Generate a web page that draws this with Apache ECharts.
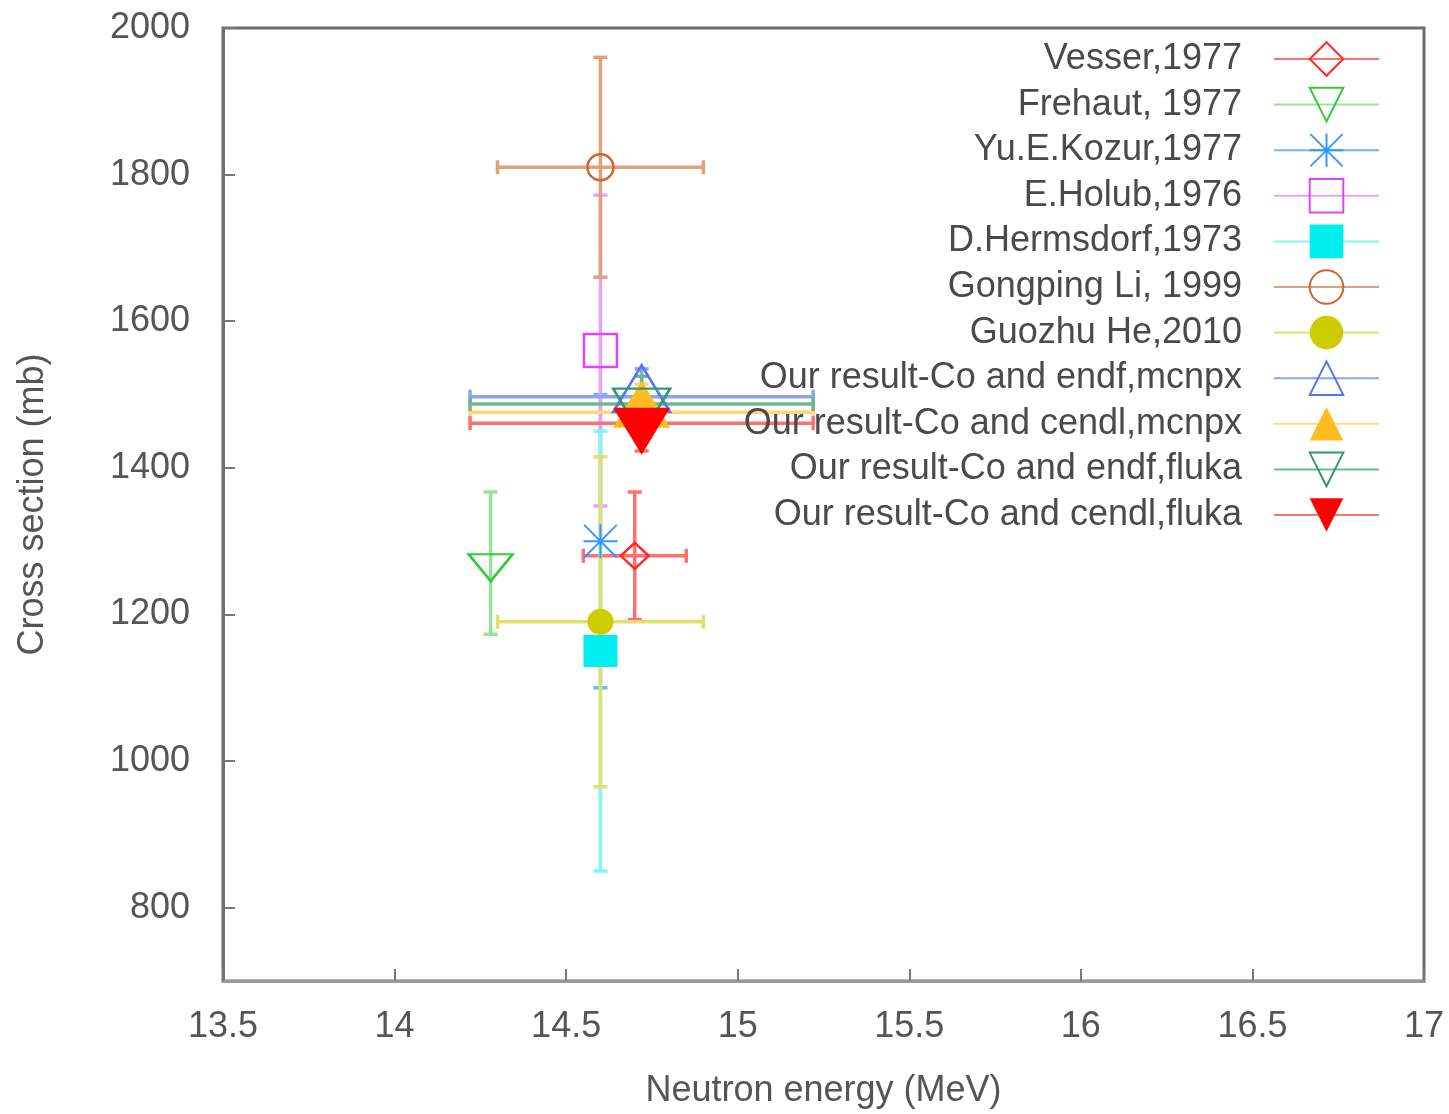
<!DOCTYPE html>
<html>
<head>
<meta charset="utf-8">
<script src="https://cdn.jsdelivr.net/npm/echarts@6/dist/echarts.min.js"></script>
<style>
html,body{margin:0;padding:0;background:#fff;}
#chart{width:1449px;height:1114px;}
</style>
</head>
<body>
<div id="chart"></div>
<script>
// ---- data ----
const seriesNames = [
  'Vesser,1977',
  'Frehaut, 1977',
  'Yu.E.Kozur,1977',
  'E.Holub,1976',
  'D.Hermsdorf,1973',
  'Gongping Li, 1999',
  'Guozhu He,2010',
  'Our result-Co and endf,mcnpx',
  'Our result-Co and cendl,mcnpx',
  'Our result-Co and endf,fluka',
  'Our result-Co and cendl,fluka'
];
const energyValues = [14.7, 14.28, 14.6, 14.6, 14.6, 14.6, 14.6, 14.72, 14.72, 14.72, 14.72];
const crossSections = [1280, 1270, 1300, 1560, 1150, 1810, 1190, 1497, 1476, 1487, 1461];
const energyErrors = [0.15, 0, 0, 0, 0, 0.3, 0.3, 0.5, 0.5, 0.5, 0.5];
const crossErrors = [87, 97, 200, 212, 300, 150, 225, 38, 38, 38, 38];
const xTickLabels = ['13.5', '14', '14.5', '15', '15.5', '16', '16.5', '17'];
const yTickValues = [800, 1000, 1200, 1400, 1600, 1800, 2000];
const yTickLabels = ['800', '1000', '1200', '1400', '1600', '1800', '2000'];

// ---- styling ----
const FONT = 'Liberation Sans';
const markerColors = ['#ff2a2a', '#33cc33', '#3399ff', '#dd44ff', '#00eeee', '#cc6633', '#cccc00', '#5577ee', '#ffbb22', '#339966', '#ff0000'];
const barColors = ['#ff7070', '#99e399', '#6fb5ff', '#e8a0ff', '#80f6f6', '#e0a07c', '#e0e070', '#8ea4f0', '#ffd77a', '#6fb78f', '#ff7070'];
const asterisk = 'path://M0,47L100,47L100,53L0,53Z M47,0L53,0L53,100L47,100Z M0,4L4,0L100,96L96,100Z M96,0L100,4L4,100L0,96Z';
const symbolDefs = [
  {symbol: 'diamond', size: [28, 26], empty: true, rot: 0, off: [0, 0]},
  {symbol: 'triangle', size: [44, 27], empty: true, rot: 180, off: [0, 4.5]},
  {symbol: asterisk, size: [34, 34], empty: false, rot: 0, off: [0, 0]},
  {symbol: 'rect', size: [33, 33], empty: true, rot: 0, off: [0, 0]},
  {symbol: 'rect', size: [34, 32], empty: false, rot: 0, off: [0, 0]},
  {symbol: 'circle', size: [26, 26], empty: true, rot: 0, off: [0, 0]},
  {symbol: 'circle', size: [26, 26], empty: false, rot: 0, off: [0, 0]},
  {symbol: 'triangle', size: [57, 47], empty: true, rot: 0, off: [0, -8]},
  {symbol: 'triangle', size: [57, 47], empty: false, rot: 0, off: [0, -8]},
  {symbol: 'triangle', size: [57, 47], empty: true, rot: 180, off: [0, 8]},
  {symbol: 'triangle', size: [57, 47], empty: false, rot: 180, off: [0, 8]}
];

function errorRenderer(color) {
  return function (params, api) {
    const x = api.value(0), y = api.value(1), xe = api.value(2), ye = api.value(3);
    const cap = 7;
    const st = {stroke: color, lineWidth: 3.5};
    const ch = [];
    const ln = (x1, y1, x2, y2) => ({type: 'line', shape: {x1, y1, x2, y2}, style: st});
    if (ye > 0) {
      const t = api.coord([x, y + ye]), b = api.coord([x, y - ye]);
      ch.push(ln(t[0], t[1], b[0], b[1]));
      ch.push(ln(t[0] - cap, t[1], t[0] + cap, t[1]));
      ch.push(ln(b[0] - cap, b[1], b[0] + cap, b[1]));
    }
    if (xe > 0) {
      const l = api.coord([x - xe, y]), r = api.coord([x + xe, y]);
      ch.push(ln(l[0], l[1], r[0], r[1]));
      ch.push(ln(l[0], l[1] - cap, l[0], l[1] + cap));
      ch.push(ln(r[0], r[1] - cap, r[0], r[1] + cap));
    }
    return {type: 'group', children: ch};
  };
}

const series = [];
seriesNames.forEach((name, i) => {
  const d = symbolDefs[i];
  series.push({
    type: 'custom',
    name: name + ' err',
    renderItem: errorRenderer(barColors[i]),
    data: [[energyValues[i], crossSections[i], energyErrors[i], crossErrors[i]]],
    silent: true,
    animation: false
  });
  series.push({
    type: 'line',
    name: name,
    data: [[energyValues[i], crossSections[i]]],
    symbol: d.symbol,
    symbolSize: d.size,
    symbolRotate: d.rot,
    symbolOffset: d.off,
    showSymbol: true,
    lineStyle: {color: barColors[i], width: 3.5},
    itemStyle: d.empty
      ? {color: 'rgba(255,255,255,0)', borderColor: markerColors[i], borderWidth: 2.5}
      : {color: markerColors[i], borderWidth: 0},
    emphasis: {disabled: true},
    silent: true,
    animation: false
  });
});

const chart = echarts.init(document.getElementById('chart'));
chart.setOption({
  backgroundColor: '#ffffff',
  animation: false,
  grid: {left: 223, right: 25, top: 28, bottom: 132, show: true, borderColor: '#6e6e6e', borderWidth: 3, backgroundColor: 'transparent'},
  xAxis: {
    type: 'value', min: 13.5, max: 17, interval: 0.5,
    name: 'Neutron energy (MeV)', nameLocation: 'middle', nameGap: 92,
    nameTextStyle: {fontFamily: FONT, fontSize: 36, color: '#555'},
    axisLine: {show: true, lineStyle: {color: '#9a9a9a', width: 3}},
    axisTick: {show: true, inside: true, length: 12, lineStyle: {color: '#777', width: 2}},
    axisLabel: {
      fontFamily: FONT, fontSize: 36, color: '#555', margin: 28,
      formatter: (v) => xTickLabels[Math.round((v - 13.5) / 0.5)]
    },
    splitLine: {show: false}
  },
  yAxis: {
    type: 'value', min: 700, max: 2000,
    name: 'Cross section (mb)', nameLocation: 'middle', nameGap: 172,
    nameTextStyle: {fontFamily: FONT, fontSize: 36, color: '#555'},
    axisLine: {show: true, lineStyle: {color: '#6e6e6e', width: 3}},
    axisTick: {show: true, inside: true, length: 12, customValues: yTickValues, lineStyle: {color: '#777', width: 2}},
    axisLabel: {
      fontFamily: FONT, fontSize: 36, color: '#555', margin: 33, customValues: yTickValues,
      formatter: (v) => { const k = yTickValues.indexOf(Math.round(v)); return k >= 0 ? yTickLabels[k] : String(v); }
    },
    splitLine: {show: false}
  },
  legend: {
    orient: 'vertical', right: 69, top: 38, align: 'right',
    itemWidth: 105, itemHeight: 42, itemGap: 3.6, padding: 0,
    selectedMode: false,
    data: seriesNames,
    textStyle: {fontFamily: FONT, fontSize: 36, color: '#4a4a4a', lineHeight: 42, padding: [0, 27, 0, 0]}
  },
  series: series
});
</script>
</body>
</html>
